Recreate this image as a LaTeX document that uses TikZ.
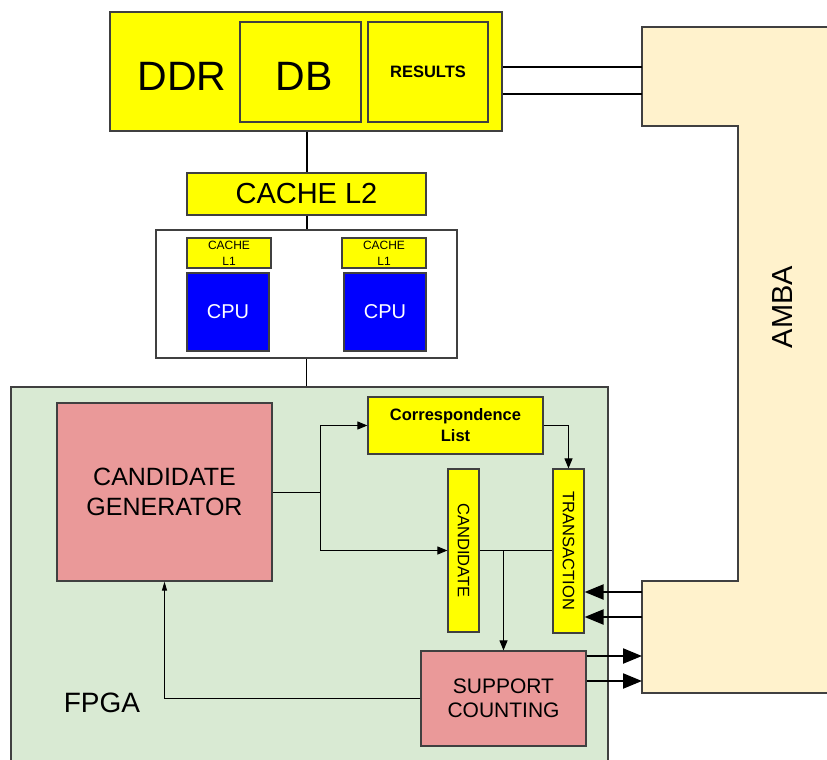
\documentclass[tikz,border=0pt]{standalone}
\usepackage{fontspec}
\setmainfont{Liberation Sans}
\usetikzlibrary{arrows.meta}
\definecolor{ybox}{HTML}{FFFF00}
\definecolor{cream}{HTML}{FFF2CC}
\definecolor{fgreen}{HTML}{D9EAD3}
\definecolor{pinkbox}{HTML}{EA9999}
\definecolor{cpublue}{HTML}{0000FF}
\definecolor{edge}{HTML}{404040}
\newcommand{\fs}[2]{\fontsize{#1}{#2}\selectfont}
\tikzset{
  box/.style={draw=edge, line width=1.2pt, inner sep=0pt, align=center},
  yb/.style={box, fill=ybox},
  pb/.style={box, fill=pinkbox},
  conn/.style={line width=1pt, -{Triangle[length=10pt,width=8pt]}},
  smallconn/.style={line width=1pt, -{Triangle[length=9pt,width=5pt]}},
  plain/.style={line width=1pt},
  bus/.style={line width=2pt},
  busarrow/.style={line width=2.2pt, -{Triangle[length=19pt,width=15pt]}},
}
\begin{document}
\begin{tikzpicture}[x=1pt,y=-1pt]
\useasboundingbox (0,0) rectangle (827,760);
\clip (0,0) rectangle (827,760);
\fill[white] (0,0) rectangle (827,760);
% AMBA bus
\draw[box, fill=cream] (642,27) -- (860,27) -- (860,693) -- (642,693) -- (642,581) -- (738,581) -- (738,126) -- (642,126) -- cycle;
\node[rotate=90, font=\fs{29}{34}] (amba) at (783,307) {AMBA};
\coordinate (ambaA) at (642,67);
\coordinate (ambaB) at (642,94);
\coordinate (ambaC) at (642,592);
\coordinate (ambaD) at (642,617);
\coordinate (ambaE) at (642,656);
\coordinate (ambaF) at (642,681);
% DDR
\node[yb, minimum width=392, minimum height=119] (ddr) at (306,71.5) {};
\node[font=\fs{41}{48}] (ddrlabel) at (182,76) {DDR};
\node[yb, minimum width=121, minimum height=100] (db) at (300.5,72) {};
\node[font=\fs{41}{48}] (dblabel) at (304,76) {DB};
\node[yb, minimum width=120, minimum height=100, font=\bfseries\fs{16.5}{20}] (res) at (428,72) {RESULTS};
% caches
\node[yb, minimum width=239, minimum height=42, font=\fs{29}{34}] (l2) at (306.5,194) {CACHE L2};
\node[box, fill=white, minimum width=301, minimum height=128] (cpubox) at (306.5,294) {};
\node[yb, minimum width=84, minimum height=30, font=\fs{12}{16}] (l1a) at (229,253) {CACHE\\L1};
\node[yb, minimum width=84, minimum height=30, font=\fs{12}{16}] (l1b) at (384,253) {CACHE\\L1};
\node[box, fill=cpublue, minimum width=82, minimum height=78, text=white, font=\fs{20}{24}] (cpua) at (228,312) {CPU};
\node[box, fill=cpublue, minimum width=82, minimum height=78, text=white, font=\fs{20}{24}] (cpub) at (385,312) {CPU};
% FPGA
\node[box, fill=fgreen, minimum width=597, minimum height=383] (fpga) at (309.5,578.5) {};
\node[font=\fs{28}{34}] (fpgalabel) at (102,703) {FPGA};
\node[pb, minimum width=215, minimum height=178, font=\fs{25}{30}] (cg) at (164.5,492) {CANDIDATE\\GENERATOR};
\node[yb, minimum width=175, minimum height=57, font=\bfseries\fs{16.5}{21}] (cl) at (455.5,425.5) {Correspondence\\List};
\node[yb, minimum width=31, minimum height=163] (cand) at (463.5,550.5) {};
\node[rotate=-90, font=\fs{16.5}{20}] (candlabel) at (cand.center) {CANDIDATE};
\node[yb, minimum width=31, minimum height=164] (trans) at (568.5,551) {};
\node[rotate=-90, font=\fs{16.5}{20}] (translabel) at (trans.center) {TRANSACTION};
\node[pb, minimum width=165, minimum height=95, font=\fs{21}{24}] (sc) at (503.5,698.5) {SUPPORT\\COUNTING};
% vertical links
\draw[bus] (ddr.south -| l2.north) -- (l2.north);
\draw[bus] (l2.south) -- (cpubox.north -| l2.south);
\draw[plain] (cpubox.south) -- (cpubox.south |- fpga.north);
% DDR - AMBA
\draw[bus] (ddr.east |- ambaA) -- (ambaA);
\draw[bus] (ddr.east |- ambaB) -- (ambaB);
% FPGA internal
\coordinate (j1) at (320,492);
\draw[plain] (cg.east |- j1) -- (j1);
\draw[conn] (j1) |- (cl.west);
\draw[conn] (j1) |- (cand.west);
\draw[conn] (cl.east) -| (trans.north);
\draw[plain] (cand.east) -- (trans.west |- cand.east);
\coordinate (j2) at (cand.east -| sc.north);
\draw[conn] (j2) -- (sc.north);
\draw[smallconn] (sc.west) -| (cg.south);
% AMBA - FPGA
\draw[busarrow] (ambaC) -- (trans.east |- ambaC);
\draw[busarrow] (ambaD) -- (trans.east |- ambaD);
\draw[busarrow] (sc.east |- ambaE) -- (ambaE);
\draw[busarrow] (sc.east |- ambaF) -- (ambaF);
\end{tikzpicture}
\end{document}
